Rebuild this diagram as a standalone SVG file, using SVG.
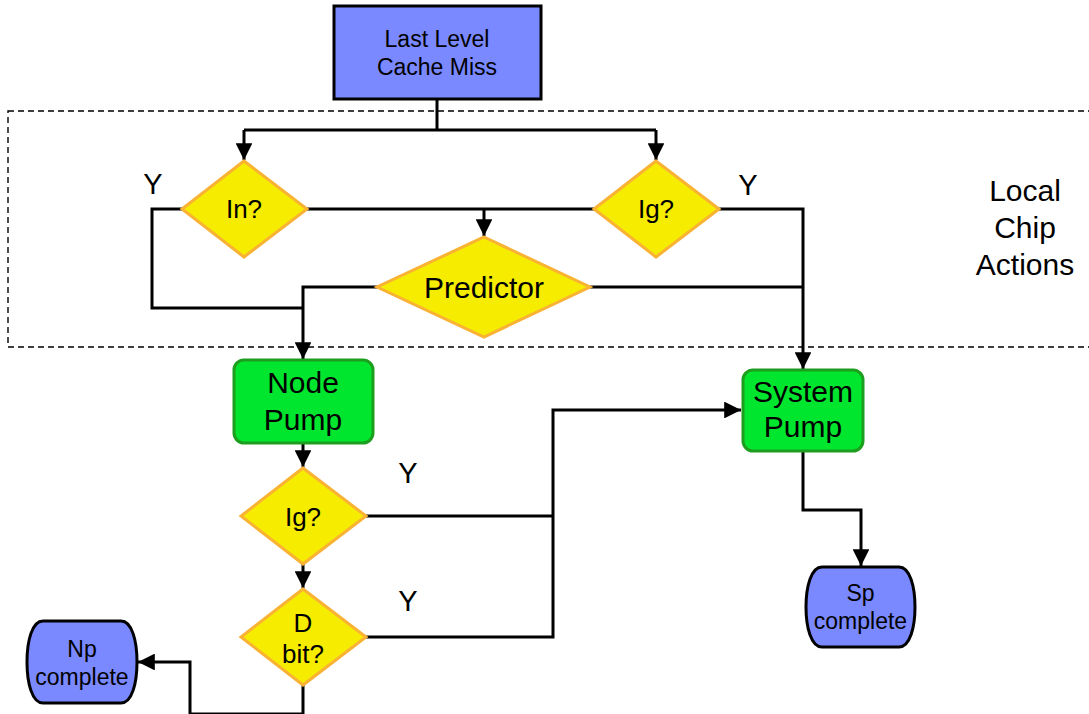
<svg xmlns="http://www.w3.org/2000/svg" width="1089" height="714" viewBox="0 0 1089 714">
<defs>
<style>
text{font-family:"Liberation Sans",Arial,sans-serif;fill:#000;text-anchor:middle}
.s{font-size:23px}.m{font-size:26px}.l{font-size:30px}.y{font-size:29px}
.dia{fill:#F5EC00;stroke:#F9B233;stroke-width:3;stroke-linejoin:miter}
.blue{fill:#7A89FF;stroke:#000;stroke-width:3}
.green{fill:#00E62E;stroke:#1E9E1E;stroke-width:3}
.c{fill:none;stroke:#000;stroke-width:3}
</style>
<marker id="a" viewBox="0 0 10 10" refX="10" refY="5" markerWidth="5.6" markerHeight="5.6" orient="auto" markerUnits="strokeWidth"><path d="M0,0 L10,5 L0,10 Z" fill="#000"/></marker>
</defs>
<rect width="1089" height="714" fill="#fff"/>
<g id="region">
<rect x="8" y="111" width="1100" height="236" fill="none" stroke="#000" stroke-width="1.4" stroke-dasharray="6 4"/>
<text class="l" x="1025" y="201">Local</text>
<text class="l" x="1025" y="238">Chip</text>
<text class="l" x="1025" y="275">Actions</text>
</g>
<g id="connectors">
<path class="c" d="M437,99 V130"/>
<path class="c" d="M244,130 H656"/>
<path class="c" d="M244,130 V160" marker-end="url(#a)"/>
<path class="c" d="M656,130 V160" marker-end="url(#a)"/>
<path class="c" d="M182,209 H152 V308 H303"/>
<path class="c" d="M307,209 H594"/>
<path class="c" d="M484,209 V236" marker-end="url(#a)"/>
<path class="c" d="M719,209 H803 V369" marker-end="url(#a)"/>
<path class="c" d="M590,287 H803"/>
<path class="c" d="M377,287 H303 V359" marker-end="url(#a)"/>
<path class="c" d="M303,443 V467" marker-end="url(#a)"/>
<path class="c" d="M303,564 V588" marker-end="url(#a)"/>
<path class="c" d="M366,516 H553"/>
<path class="c" d="M366,637 H553 V410 H741" marker-end="url(#a)"/>
<path class="c" d="M303,685 V714 H190 V662 H138" marker-end="url(#a)"/>
<path class="c" d="M803,451 V510 H861 V566" marker-end="url(#a)"/>
<text class="y" x="153" y="194">Y</text>
<text class="y" x="748" y="195">Y</text>
<text class="y" x="408" y="483">Y</text>
<text class="y" x="408" y="611">Y</text>
</g>
<g id="llc">
<rect class="blue" x="334" y="6" width="207" height="93"/>
<text class="s" x="437" y="47">Last Level</text>
<text class="s" x="437" y="75">Cache Miss</text>
</g>
<g id="in">
<polygon class="dia" points="244,161 307,209 244,257 182,209"/>
<text class="m" x="244" y="218">In?</text>
</g>
<g id="ig1">
<polygon class="dia" points="656,161 719,209 656,257 594,209"/>
<text class="m" x="656" y="218">Ig?</text>
</g>
<g id="predictor">
<polygon class="dia" points="484,237 590,287 484,337 377,287"/>
<text class="l" x="484" y="298">Predictor</text>
</g>
<g id="nodepump">
<rect class="green" x="234" y="360" width="139" height="83" rx="10"/>
<text class="l" x="303" y="393">Node</text>
<text class="l" x="303" y="430">Pump</text>
</g>
<g id="systempump">
<rect class="green" x="743" y="370" width="120" height="81" rx="10"/>
<text class="l" x="803" y="402">System</text>
<text class="l" x="803" y="437">Pump</text>
</g>
<g id="ig2">
<polygon class="dia" points="303,468 366,516 303,564 241,516"/>
<text class="m" x="303" y="526">Ig?</text>
</g>
<g id="dbit">
<polygon class="dia" points="303,589 366,637 303,685 241,637"/>
<text class="m" x="303" y="632">D</text>
<text class="m" x="303" y="663">bit?</text>
</g>
<g id="np">
<path class="blue" d="M43,621 H121 C132,621 137,641 137,662 C137,683 132,703 121,703 H43 C32,703 27,683 27,662 C27,641 32,621 43,621 Z"/>
<text class="s" x="82" y="657">Np</text>
<text class="s" x="82" y="685">complete</text>
</g>
<g id="sp">
<path class="blue" d="M822,567 H899 C910,567 915,587 915,607 C915,627 910,647 899,647 H822 C811,647 806,627 806,607 C806,587 811,567 822,567 Z"/>
<text class="s" x="860.5" y="601">Sp</text>
<text class="s" x="860.5" y="629">complete</text>
</g>
</svg>
